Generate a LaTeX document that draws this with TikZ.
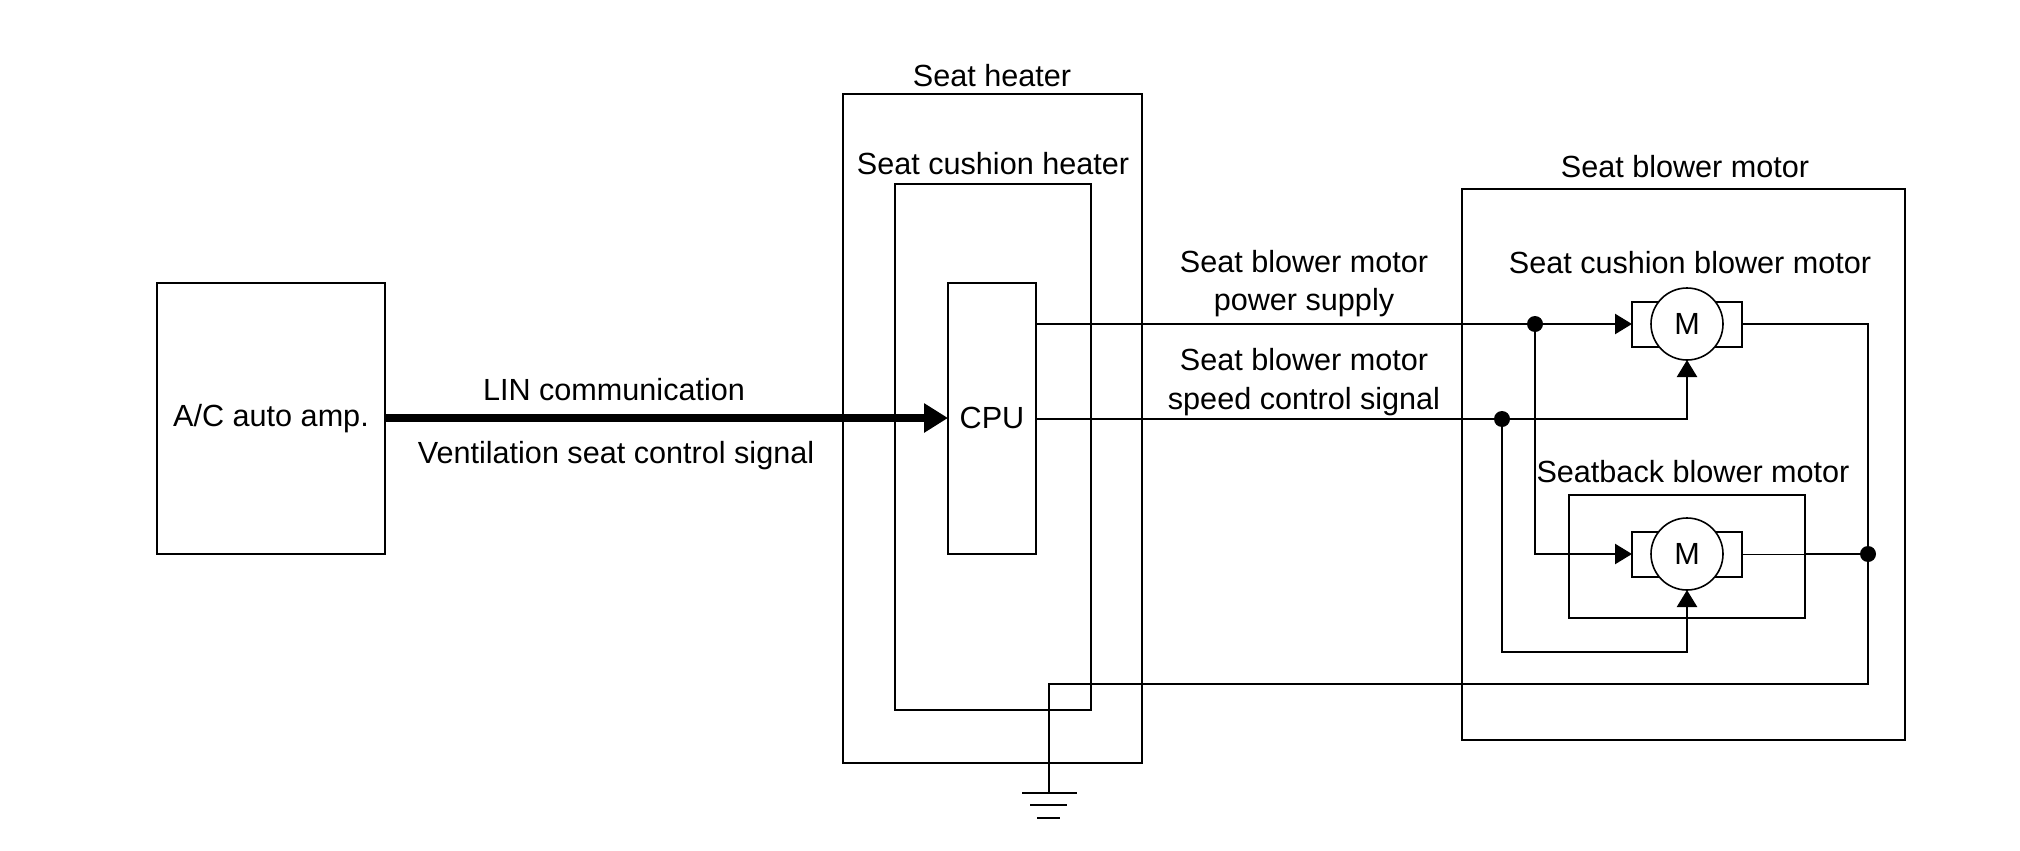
\documentclass[tikz,border=0pt]{standalone}
\usepackage{fontspec}
\setmainfont{Liberation Sans}
\usetikzlibrary{arrows.meta}
\tikzset{
  every node/.style={font=\fontsize{15.3pt}{18pt}\selectfont, inner sep=0pt, outer sep=0pt},
  box/.style={draw, line width=1pt, rectangle},
  wire/.style={line width=1.2pt},
  thinwire/.style={line width=0.5pt},
  sarr/.style={-{Triangle[length=8.5pt,width=10pt]}},
  linarr/.style={line width=4pt, -{Triangle[length=12pt,width=14pt]}},
  motorcirc/.style={draw, circle, fill=white, line width=0.8pt, minimum size=36pt},
  motorrect/.style={draw, rectangle, line width=1pt, minimum width=55pt, minimum height=22.5pt},
  lbl/.style={anchor=base},
  jdot/.style={fill=black}
}
\begin{document}
\begin{tikzpicture}[x=0.5pt, y=-0.5pt]
\useasboundingbox (0,0) rectangle (2020,851);
% boxes
\node[box, minimum width=114pt, minimum height=135.5pt] (ac) at (271,418.5) {A/C auto amp.};
\node[box, minimum width=149.5pt, minimum height=334.5pt] (heater) at (992.5,428.5) {};
\node[box, minimum width=98pt, minimum height=263pt] (cushion) at (993,447) {};
\node[box, minimum width=44pt, minimum height=135.5pt] (cpu) at (992,418) {CPU};
\node[box, minimum width=221.5pt, minimum height=275.5pt] (blower) at (1683.5,464.5) {};
\node[box, minimum width=118pt, minimum height=61.5pt] (back) at (1687,556.5) {};
% motors
\node[motorrect] (m1r) at (1687,324) {};
\node[motorcirc] (m1) at (1687,324) {M};
\node[motorrect] (m2r) at (1687,554) {};
\node[motorcirc] (m2) at (1687,554) {M};
% labels
\node[lbl] (lheater) at (992,86) {Seat heater};
\node[lbl] (lcushion) at (993,174) {Seat cushion heater};
\node[lbl] (llin) at (614,400) {LIN communication};
\node[lbl] (lvent) at (616,463) {Ventilation seat control signal};
\node[lbl] (lps1) at (1304,272) {Seat blower motor};
\node[lbl] (lps2) at (1304,310) {power supply};
\node[lbl] (lsc1) at (1304,370) {Seat blower motor};
\node[lbl] (lsc2) at (1304,409) {speed control signal};
\node[lbl] (lblower) at (1685,177) {Seat blower motor};
\node[lbl] (lm1) at (1690,273) {Seat cushion blower motor};
\node[lbl] (lm2) at (1693,482) {Seatback blower motor};
% coordinates
\coordinate (dotP) at (1535,324);
\coordinate (dotS) at (1502,419);
\coordinate (dotR) at (1868,554);
\coordinate (sb) at (1502,652);
\coordinate (gr) at (1868,684);
\coordinate (gnd) at (1049,793);
% LIN
\draw[linarr] (ac.east |- cpu.west) -- (cpu.west);
% power supply
\draw[wire] (cpu.east |- m1r.west) -- (dotP);
\draw[wire, sarr] (dotP) -- (m1r.west);
\draw[wire, sarr] (dotP) -- (dotP |- m2r.west) -- (m2r.west);
% speed control
\draw[wire] (cpu.east |- dotS) -- (dotS);
\draw[wire, sarr] (dotS) -- (dotS -| m1.south) -- (m1.south);
\draw[wire, sarr] (dotS) -- (sb) -- (sb -| m2.south) -- (m2.south);
% return / ground
\draw[wire] (m1r.east) -| (gr) -- (gr -| gnd) -- (gnd);
\draw[thinwire] (m2r.east) -- (back.east |- m2r.east);
\draw[wire] (back.east |- m2r.east) -- (dotR);
% junction dots
\fill[jdot] (dotP) circle (4pt);
\fill[jdot] (dotS) circle (4pt);
\fill[jdot] (dotR) circle (4pt);
% ground symbol
\draw[wire] ([xshift=-13.5pt]gnd) -- ([xshift=14pt]gnd);
\draw[wire] ([xshift=-9.5pt,yshift=-6pt]gnd) -- ([xshift=9pt,yshift=-6pt]gnd);
\draw[wire] ([xshift=-6pt,yshift=-12.5pt]gnd) -- ([xshift=5.5pt,yshift=-12.5pt]gnd);
\end{tikzpicture}
\end{document}
